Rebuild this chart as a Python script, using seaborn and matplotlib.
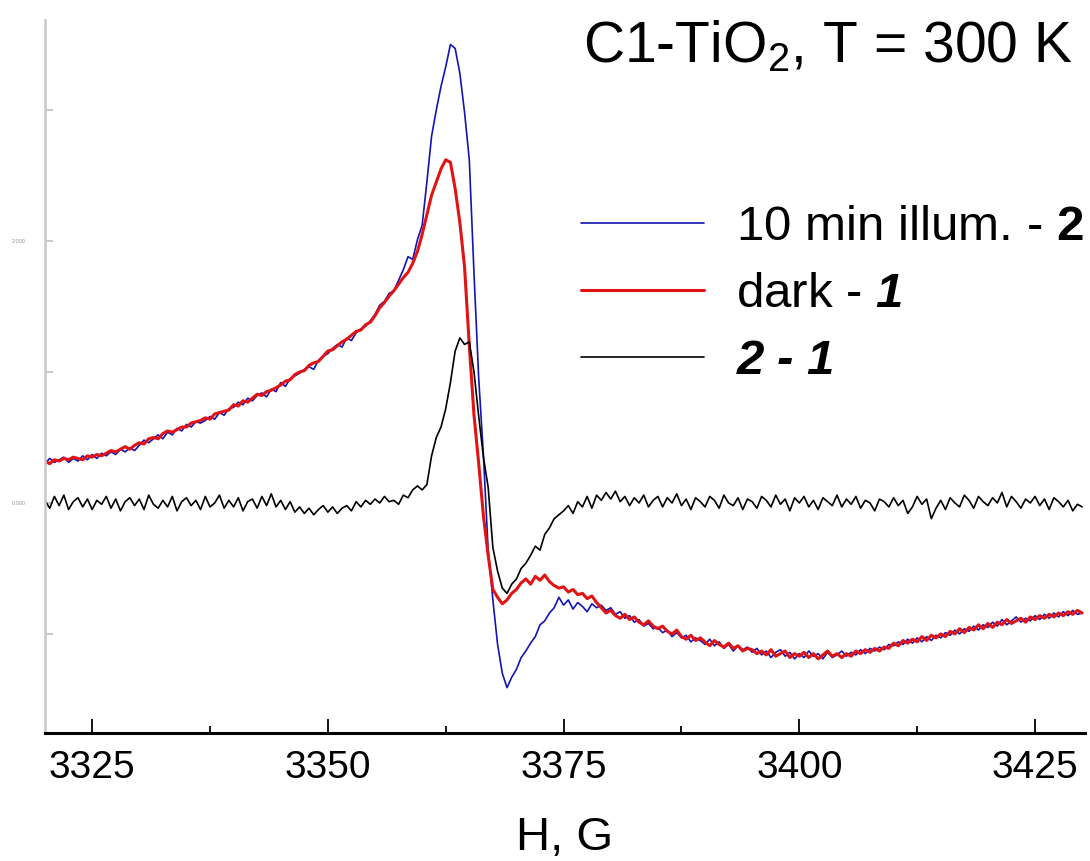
import numpy as np
import pandas as pd
import matplotlib
matplotlib.use("Agg")
import matplotlib.pyplot as plt
from matplotlib.ticker import MultipleLocator
import seaborn as sns

# ── Data (0.5 G step) ───────────────────────────────────────────────────────

field = np.arange(3320.0, 3430.5, 0.5)  # H, G

# 10 min illumination - 2
illum = [
    0.30, 0.34, 0.31, 0.33, 0.35, 0.31, 0.34, 0.32, 0.36, 0.33,
    0.37, 0.34, 0.38, 0.36, 0.39, 0.37, 0.41, 0.39, 0.42, 0.40,
    0.44, 0.48, 0.46, 0.49, 0.52, 0.49, 0.54, 0.52, 0.57, 0.55,
    0.60, 0.58, 0.62, 0.61, 0.63, 0.66, 0.64, 0.69, 0.67, 0.72,
    0.73, 0.77, 0.75, 0.80, 0.78, 0.82, 0.84, 0.81, 0.87, 0.85,
    0.92, 0.89, 0.95, 0.97, 0.99, 1.02, 1.04, 1.02, 1.09, 1.12,
    1.14, 1.18, 1.21, 1.19, 1.26, 1.24, 1.30, 1.33, 1.35, 1.39,
    1.44, 1.51, 1.54, 1.60, 1.62, 1.70, 1.78, 1.88, 1.86, 2.01,
    2.12, 2.45, 2.80, 3.00, 3.18, 3.33, 3.50, 3.47, 3.28, 2.98,
    2.62, 1.75, 0.95, 0.36, -0.36, -0.74, -1.08, -1.30, -1.41, -1.33,
    -1.27, -1.18, -1.13, -1.07, -1.02, -0.93, -0.90, -0.84, -0.80, -0.72,
    -0.78, -0.74, -0.81, -0.76, -0.79, -0.83, -0.77, -0.80, -0.78, -0.82,
    -0.80, -0.85, -0.83, -0.88, -0.86, -0.91, -0.89, -0.94, -0.92, -0.96,
    -0.95, -0.99, -0.97, -1.02, -0.99, -1.03, -1.01, -1.06, -1.03, -1.05,
    -1.08, -1.04, -1.09, -1.06, -1.11, -1.08, -1.13, -1.09, -1.12, -1.10,
    -1.14, -1.11, -1.16, -1.13, -1.18, -1.14, -1.12, -1.17, -1.14, -1.19,
    -1.15, -1.18, -1.13, -1.17, -1.15, -1.19, -1.14, -1.18, -1.16, -1.13,
    -1.17, -1.14, -1.16, -1.12, -1.15, -1.11, -1.13, -1.10, -1.12, -1.08,
    -1.09, -1.06, -1.08, -1.04, -1.07, -1.03, -1.06, -1.02, -1.05, -1.01,
    -1.03, -0.99, -1.01, -0.97, -1.00, -0.96, -0.98, -0.94, -0.97, -0.93,
    -0.95, -0.91, -0.94, -0.89, -0.93, -0.90, -0.87, -0.91, -0.88, -0.90,
    -0.86, -0.89, -0.85, -0.88, -0.84, -0.87, -0.83, -0.86, -0.82, -0.85,
    -0.84,
]

# dark - 1
dark = [
    0.32, 0.30, 0.33, 0.32, 0.34, 0.33, 0.35, 0.34, 0.33, 0.36,
    0.35, 0.37, 0.36, 0.38, 0.40, 0.39, 0.41, 0.43, 0.41, 0.44,
    0.46, 0.45, 0.49, 0.50, 0.49, 0.53, 0.55, 0.54, 0.56, 0.58,
    0.58, 0.61, 0.62, 0.63, 0.65, 0.64, 0.68, 0.69, 0.70, 0.71,
    0.75, 0.74, 0.78, 0.77, 0.80, 0.83, 0.82, 0.85, 0.86, 0.88,
    0.90, 0.93, 0.94, 0.98, 1.00, 1.01, 1.05, 1.07, 1.08, 1.12,
    1.16, 1.17, 1.20, 1.23, 1.25, 1.28, 1.31, 1.32, 1.36, 1.38,
    1.43, 1.49, 1.53, 1.58, 1.62, 1.67, 1.72, 1.76, 1.83, 1.92,
    2.05, 2.20, 2.35, 2.45, 2.55, 2.62, 2.60, 2.40, 2.14, 1.80,
    1.20, 0.67, 0.30, -0.10, -0.40, -0.66, -0.72, -0.77, -0.74, -0.69,
    -0.66, -0.61, -0.58, -0.62, -0.56, -0.59, -0.55, -0.60, -0.63, -0.65,
    -0.64, -0.68, -0.66, -0.70, -0.69, -0.73, -0.71, -0.76, -0.80, -0.84,
    -0.82, -0.86, -0.88, -0.85, -0.89, -0.87, -0.91, -0.93, -0.90, -0.94,
    -0.96, -0.94, -0.98, -1.00, -0.97, -1.02, -1.04, -1.01, -1.05, -1.03,
    -1.06, -1.09, -1.05, -1.08, -1.10, -1.07, -1.11, -1.09, -1.13, -1.11,
    -1.12, -1.15, -1.13, -1.16, -1.12, -1.17, -1.15, -1.13, -1.18, -1.15,
    -1.17, -1.14, -1.18, -1.15, -1.19, -1.16, -1.13, -1.17, -1.15, -1.18,
    -1.15, -1.17, -1.13, -1.15, -1.12, -1.14, -1.11, -1.13, -1.10, -1.11,
    -1.07, -1.09, -1.05, -1.07, -1.04, -1.06, -1.02, -1.05, -1.01, -1.03,
    -1.00, -1.02, -0.98, -1.00, -0.96, -0.99, -0.95, -0.97, -0.93, -0.96,
    -0.92, -0.95, -0.91, -0.93, -0.89, -0.92, -0.90, -0.88, -0.91, -0.87,
    -0.89, -0.86, -0.88, -0.85, -0.87, -0.84, -0.86, -0.83, -0.85, -0.82,
    -0.84,
]

# difference 2 - 1
diff = [
    0.02, -0.04, 0.05, -0.02, 0.06, -0.05, 0.01, 0.04, -0.03, 0.03,
    -0.05, 0.02, -0.01, 0.05, -0.04, 0.03, -0.06, 0.01, 0.04, -0.02,
    0.03, -0.05, 0.06, -0.01, -0.04, 0.02, -0.03, 0.05, -0.06, 0.01,
    0.04, -0.02, 0.02, -0.05, 0.05, -0.03, 0.00, 0.06, -0.04, 0.02,
    -0.03, 0.04, -0.06, 0.01, 0.03, -0.04, 0.05, -0.02, 0.07, -0.03,
    0.02, -0.05, 0.01, -0.07, -0.03, -0.08, -0.04, -0.09, -0.05, -0.02,
    -0.07, -0.03, -0.08, -0.04, -0.02, -0.06, 0.01, -0.03, 0.02, -0.01,
    0.03, 0.00, 0.05, 0.01, 0.02, -0.01, 0.06, 0.04, 0.10, 0.13,
    0.10, 0.14, 0.36, 0.50, 0.58, 0.72, 0.92, 1.16, 1.26, 1.21,
    1.23, 1.00, 0.66, 0.35, 0.12, -0.34, -0.52, -0.65, -0.69, -0.62,
    -0.58, -0.50, -0.46, -0.40, -0.33, -0.36, -0.24, -0.19, -0.12, -0.09,
    -0.06, -0.02, -0.08, 0.01, -0.03, 0.05, -0.04, 0.06, 0.02, 0.08,
    0.03, 0.09, 0.01, 0.05, -0.02, 0.04, 0.00, 0.06, -0.03, 0.02,
    0.05, -0.03, 0.04, 0.00, 0.07, -0.02, 0.03, -0.05, 0.04, 0.01,
    -0.03, 0.05, 0.02, -0.04, 0.06, 0.00, -0.02, 0.04, -0.05, 0.03,
    0.01, -0.04, 0.05, 0.02, -0.03, 0.06, -0.01, 0.03, -0.06, 0.04,
    0.00, 0.05, -0.03, 0.02, -0.05, 0.04, 0.01, -0.02, 0.06, -0.03,
    0.03, -0.01, 0.05, -0.04, 0.02, 0.00, -0.06, 0.03, 0.01, -0.03,
    0.04, -0.02, 0.02, -0.08, -0.03, 0.05, -0.01, 0.03, -0.12, -0.04,
    0.02, -0.05, 0.04, 0.00, -0.03, 0.06, 0.02, -0.04, 0.05, 0.01,
    -0.02, 0.04, 0.00, 0.08, -0.03, 0.05, 0.01, -0.04, 0.03, 0.00,
    0.05, -0.02, 0.03, -0.05, 0.04, 0.01, -0.03, 0.02, -0.06, -0.01,
    -0.03,
]

LABELS = ["10 min illum. - $\\mathbf{2}$", "dark - $\\mathbfit{1}$", "2 - 1"]
COLORS = ["#1414b4", "#e01414", "#000000"]

df = pd.DataFrame({"H": field, "illum": illum, "dark": dark, "diff": diff})

# ── Style ─────────────────────────────────────────────────────────────────────

sns.set_theme(style="ticks")
plt.rcParams.update({
    "font.family": ["Liberation Sans", "DejaVu Sans"],
    "text.color": "black",
    "axes.labelcolor": "black",
    "xtick.color": "black",
    "ytick.color": "black",
    "mathtext.fontset": "custom",
    "mathtext.rm": "Liberation Sans",
    "mathtext.it": "Liberation Sans:italic",
    "mathtext.bf": "Liberation Sans:bold",
    "mathtext.bfit": "Liberation Sans:italic:bold",
})

fig = plt.figure(figsize=(10.9, 8.61), dpi=100)
ax = fig.add_axes([45 / 1090, 128 / 861, 1040 / 1090, 713 / 861])

sns.lineplot(data=df, x="H", y="illum", ax=ax, color=COLORS[0], lw=1.2, label=LABELS[0])
sns.lineplot(data=df, x="H", y="dark", ax=ax, color=COLORS[1], lw=2.2, label=LABELS[1])
sns.lineplot(data=df, x="H", y="diff", ax=ax, color=COLORS[2], lw=1.2, label=LABELS[2])

ax.set_xlim(3320, 3430.3)
ax.set_ylim(-1.756, 3.687)

ax.xaxis.set_major_locator(MultipleLocator(25))
ax.xaxis.set_minor_locator(MultipleLocator(12.5))
ax.tick_params(axis="x", which="major", direction="in", length=10, width=1.3,
               color="black", labelcolor="black", labelsize=28, pad=12)
ax.tick_params(axis="x", which="minor", direction="in", length=5, width=1.3,
               color="black")

ax.set_yticks([-1, 0, 1, 2, 3])
ax.set_yticklabels(["", "0.000", "", "2.000", ""])
ax.tick_params(axis="y", direction="in", length=6, width=1.2, color="#c0c0c0",
               labelsize=4, labelcolor="#999999", pad=14)

for side in ["top", "right"]:
    ax.spines[side].set_visible(False)
ax.spines["left"].set_color("#c8c8c8")
ax.spines["left"].set_linewidth(1.8)
ax.spines["bottom"].set_color("black")
ax.spines["bottom"].set_linewidth(2.2)

ax.set_xlabel("H, G", fontsize=34, labelpad=22, color="black")
ax.set_ylabel("")

fig.text(1073 / 1090, 1 - 62 / 861, "C1-TiO$_2$, T = 300 K", fontsize=41,
         ha="right", va="baseline", color="black")

leg = ax.legend(loc="upper right", bbox_to_anchor=(1084 / 1090, 1 - 205 / 861),
                bbox_transform=fig.transFigure, frameon=False, fontsize=35.5,
                handlelength=2.5, handletextpad=0.65, labelspacing=0.45,
                borderpad=0, borderaxespad=0)
for t in leg.get_texts():
    t.set_color("black")
leg.get_texts()[2].set_fontweight("bold")
leg.get_texts()[2].set_fontstyle("italic")

fig.savefig("out.png", dpi=100)
